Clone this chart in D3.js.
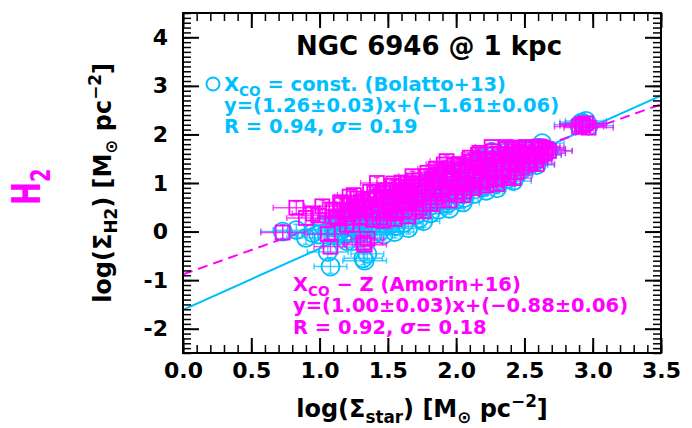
<!DOCTYPE html>
<html>
<head>
<meta charset="utf-8">
<script src="https://d3js.org/d3.v7.min.js"></script>
<style>
  body { margin: 0; background: #fff; }
  text { font-family: "DejaVu Sans", sans-serif; font-weight: bold; }
</style>
</head>
<body>
<div id="chart"></div>
<script>
// stellar surface density, log(Sigma_star), one entry per 1 kpc region
var xStar = [0.73,0.83,0.90,0.95,0.99,1.02,1.06,1.08,1.10,1.13,
  1.15,1.18,1.20,1.22,1.25,1.27,1.29,1.32,1.33,1.35,
  1.36,1.38,1.40,1.42,1.44,1.45,1.47,1.49,1.50,1.52,
  1.54,1.55,1.57,1.58,1.60,1.62,1.63,1.65,1.67,1.68,
  1.70,1.72,1.73,1.75,1.76,1.78,1.80,1.82,1.83,1.85,
  1.87,1.88,1.90,1.92,1.93,1.95,1.97,1.98,2.00,2.02,
  2.03,2.05,2.07,2.08,2.10,2.12,2.13,2.15,2.17,2.18,
  2.20,2.22,2.23,2.25,2.27,2.28,2.30,2.32,2.33,2.35,
  2.37,2.38,2.40,2.42,2.43,2.45,2.47,2.48,2.50,2.52,
  2.54,2.55,2.57,2.59,2.61,2.63,2.65,2.68,2.90,2.92,
  2.93,2.95,2.97,
  1.21,1.23,1.24,1.26,1.28,1.30,1.31,1.34,1.37,1.39,
  1.41,1.43,1.46,1.48,1.51,1.53,1.56,1.59,1.61,1.64,
  1.66,1.69,1.71,1.74,1.77,1.79,1.81,1.84,1.86,1.89,
  1.91,1.94,1.96,1.99,2.01,2.04,2.06,2.09,2.11,2.14,
  2.16,2.19,2.21,2.24,2.26,2.29,2.31,2.34,2.36,2.39,
  2.41,2.44,2.46,2.49,2.51,2.53,2.56,2.58,2.60,2.62,
  2.66,1.12,1.16,1.19];
var xErr = [0.16,0.17,0.14,0.15,0.12,0.13,0.15,0.12,0.11,0.14,
  0.12,0.13,0.15,0.11,0.12,0.10,0.13,0.14,0.16,0.12,
  0.11,0.13,0.10,0.12,0.14,0.11,0.12,0.10,0.13,0.11,
  0.12,0.14,0.10,0.11,0.12,0.13,0.10,0.11,0.12,0.10,
  0.12,0.11,0.13,0.10,0.12,0.11,0.10,0.12,0.11,0.13,
  0.10,0.12,0.11,0.10,0.12,0.11,0.10,0.12,0.11,0.13,
  0.10,0.12,0.11,0.10,0.12,0.11,0.10,0.12,0.11,0.13,
  0.10,0.12,0.11,0.10,0.12,0.11,0.13,0.10,0.12,0.11,
  0.10,0.12,0.11,0.13,0.10,0.12,0.11,0.10,0.12,0.11,
  0.13,0.12,0.14,0.13,0.15,0.16,0.15,0.17,0.18,0.16,
  0.17,0.15,0.18,
  0.12,0.11,0.13,0.10,0.12,0.14,0.11,0.12,0.10,0.13,
  0.11,0.12,0.10,0.13,0.11,0.10,0.12,0.11,0.13,0.10,
  0.12,0.11,0.10,0.12,0.13,0.11,0.10,0.12,0.11,0.10,
  0.13,0.11,0.12,0.10,0.11,0.13,0.10,0.12,0.11,0.10,
  0.12,0.11,0.13,0.10,0.12,0.11,0.10,0.12,0.13,0.11,
  0.10,0.12,0.11,0.13,0.12,0.11,0.14,0.12,0.13,0.15,
  0.14,0.13,0.12,0.14];

// H2 surface density with constant X_CO (Bolatto+13)
var yCO = [0.00,0.03,-0.13,-0.03,-0.06,0.13,-0.42,-0.72,0.08,-0.09,
  0.24,0.08,-0.20,0.38,0.42,0.14,-0.04,-0.55,-0.60,-0.46,
  0.35,0.13,0.50,0.70,0.00,0.37,-0.06,0.57,0.33,0.16,
  0.73,-0.01,0.57,0.33,0.76,0.18,0.54,0.07,0.74,0.91,
  0.43,0.71,0.27,0.65,0.21,0.93,0.51,0.88,0.65,1.10,
  0.45,0.86,0.58,1.09,1.27,0.47,0.87,1.03,0.66,1.24,
  0.85,0.60,1.20,0.86,1.39,1.11,0.77,1.35,1.50,0.94,
  1.26,0.84,1.35,1.18,1.55,1.01,0.89,1.51,1.33,1.20,
  1.63,1.09,1.51,1.04,1.67,1.38,1.55,1.27,1.66,1.42,
  1.37,1.68,1.58,1.37,1.73,1.82,1.61,1.67,2.20,2.25,
  2.22,2.28,2.18,
  0.01,0.24,-0.20,0.18,0.35,-0.02,0.29,0.18,0.52,-0.06,
  0.37,0.24,0.53,0.16,0.44,0.67,0.11,0.49,0.67,0.36,
  0.53,0.82,0.35,0.73,0.57,1.00,0.37,0.81,0.98,0.67,
  1.20,0.58,0.91,1.20,0.77,1.11,0.69,1.07,1.30,0.99,
  1.46,0.90,1.37,1.16,1.64,0.98,1.40,1.19,1.66,1.35,
  1.63,1.16,1.59,1.38,1.70,1.53,1.67,1.44,1.72,1.57,
  1.69,-0.05,0.20,-0.06];
var yErrCO = [0.14,0.12,0.13,0.12,0.11,0.12,0.13,0.14,0.11,0.12,
  0.10,0.11,0.12,0.10,0.11,0.10,0.12,0.13,0.14,0.12,
  0.10,0.11,0.09,0.10,0.12,0.10,0.11,0.09,0.10,0.11,
  0.09,0.12,0.10,0.09,0.10,0.11,0.09,0.12,0.10,0.09,
  0.10,0.09,0.11,0.09,0.12,0.10,0.09,0.10,0.09,0.11,
  0.08,0.10,0.09,0.08,0.10,0.11,0.08,0.09,0.10,0.09,
  0.10,0.11,0.08,0.09,0.08,0.10,0.09,0.08,0.07,0.10,
  0.09,0.10,0.08,0.09,0.08,0.10,0.11,0.08,0.09,0.10,
  0.08,0.09,0.08,0.10,0.07,0.09,0.08,0.09,0.07,0.08,
  0.09,0.07,0.08,0.09,0.07,0.08,0.08,0.09,0.08,0.07,
  0.08,0.07,0.08,
  0.11,0.10,0.12,0.11,0.10,0.12,0.10,0.11,0.09,0.12,
  0.10,0.09,0.10,0.11,0.09,0.10,0.12,0.09,0.10,0.11,
  0.09,0.10,0.11,0.09,0.10,0.08,0.11,0.09,0.10,0.09,
  0.08,0.10,0.09,0.08,0.10,0.09,0.10,0.08,0.09,0.10,
  0.08,0.09,0.08,0.10,0.07,0.09,0.08,0.09,0.07,0.08,
  0.09,0.08,0.07,0.08,0.09,0.07,0.08,0.09,0.08,0.07,
  0.08,0.12,0.11,0.12];

// H2 surface density with metallicity dependent X_CO (Amorin+16)
var yZ = [-0.02,0.49,0.28,0.37,0.33,0.52,-0.05,-0.31,0.45,0.27,
  0.60,0.43,0.14,0.72,0.75,0.47,0.29,-0.23,-0.27,-0.15,
  0.66,0.43,0.80,1.00,0.29,0.66,0.22,0.85,0.61,0.43,
  0.99,0.26,0.83,0.59,1.01,0.43,0.79,0.31,0.98,1.14,
  0.66,0.93,0.49,0.86,0.42,1.14,0.71,1.08,0.85,1.29,
  0.64,1.05,0.77,1.27,1.45,0.64,1.04,1.20,0.82,1.39,
  1.00,0.75,1.34,1.00,1.52,1.24,0.90,1.47,1.62,1.06,
  1.37,0.95,1.46,1.28,1.65,1.11,0.98,1.60,1.41,1.28,
  1.70,1.16,1.58,1.10,1.73,1.43,1.60,1.32,1.70,1.46,
  1.41,1.71,1.61,1.39,1.75,1.73,1.62,1.66,2.16,2.21,
  2.18,2.23,2.14,
  0.36,0.58,0.14,0.51,0.68,0.30,0.61,0.49,0.82,0.24,
  0.66,0.53,0.81,0.44,0.71,0.94,0.37,0.75,0.92,0.60,
  0.77,1.05,0.57,0.95,0.78,1.21,0.57,1.01,1.17,0.86,
  1.38,0.76,1.08,1.36,0.93,1.26,0.83,1.21,1.43,1.11,
  1.58,1.02,1.48,1.27,1.74,1.07,1.49,1.27,1.74,1.42,
  1.69,1.22,1.64,1.42,1.74,1.57,1.70,1.47,1.74,1.59,
  1.70,0.31,0.55,0.29];
var yErrZ = [0.15,0.13,0.14,0.13,0.12,0.13,0.14,0.15,0.12,0.13,
  0.11,0.12,0.13,0.11,0.12,0.11,0.13,0.14,0.15,0.13,
  0.11,0.12,0.10,0.11,0.13,0.11,0.12,0.10,0.11,0.12,
  0.10,0.13,0.11,0.10,0.11,0.12,0.10,0.13,0.11,0.10,
  0.11,0.10,0.12,0.10,0.13,0.11,0.10,0.11,0.10,0.12,
  0.09,0.11,0.10,0.09,0.11,0.12,0.09,0.10,0.11,0.10,
  0.11,0.12,0.09,0.10,0.09,0.11,0.10,0.09,0.08,0.11,
  0.10,0.11,0.09,0.10,0.09,0.11,0.12,0.09,0.10,0.11,
  0.09,0.10,0.09,0.11,0.08,0.10,0.09,0.10,0.08,0.09,
  0.10,0.08,0.09,0.10,0.08,0.09,0.09,0.10,0.09,0.08,
  0.09,0.08,0.09,
  0.12,0.11,0.13,0.12,0.11,0.13,0.11,0.12,0.10,0.13,
  0.11,0.10,0.11,0.12,0.10,0.11,0.13,0.10,0.11,0.12,
  0.10,0.11,0.12,0.10,0.11,0.09,0.12,0.10,0.11,0.10,
  0.09,0.11,0.10,0.09,0.11,0.10,0.11,0.09,0.10,0.11,
  0.09,0.10,0.09,0.11,0.08,0.10,0.09,0.10,0.08,0.09,
  0.10,0.09,0.08,0.09,0.10,0.08,0.09,0.10,0.09,0.08,
  0.09,0.13,0.12,0.13];

// fits: y = slope*x + intercept
var fitSlope = [1.26, 1.00];
var fitIntercept = [-1.61, -0.88];
var fitRange = [0, 3.5];

var xTicks = [0, 0.5, 1.0, 1.5, 2.0, 2.5, 3.0, 3.5];
var yTicks = [-2, -1, 0, 1, 2, 3, 4];

var cyan = "#00bfff", magenta = "#ff00ff";

var svg = d3.select("#chart").append("svg")
  .attr("width", 692).attr("height", 428);

var pL = 183, pR = 661, pT = 13, pB = 353;
var x = d3.scaleLinear().domain([0, 3.5]).range([pL, pR]);
var y = d3.scaleLinear().domain([-2.5, 4.5]).range([pB, pT]);

svg.append("clipPath").attr("id", "clip")
  .append("rect").attr("x", pL).attr("y", pT)
  .attr("width", pR - pL).attr("height", pB - pT);

var plot = svg.append("g").attr("clip-path", "url(#clip)");

// fit lines go under the points
var line = d3.line().x(function(d) { return x(d[0]); }).y(function(d) { return y(d[1]); });
fitSlope.forEach(function(m, i) {
  plot.append("path")
    .datum(fitRange.map(function(v) { return [v, m * v + fitIntercept[i]]; }))
    .attr("fill", "none")
    .attr("stroke", i == 0 ? cyan : magenta)
    .attr("stroke-width", 2)
    .attr("stroke-dasharray", i == 0 ? null : "10,6")
    .attr("d", line);
});

function errorBars(g, ys, yerr, color) {
  var cap = 3;
  xStar.forEach(function(xv, i) {
    var cx = x(xv), cy = y(ys[i]);
    var x0 = x(xv - xErr[i]), x1 = x(xv + xErr[i]);
    var y0 = y(ys[i] - yerr[i]), y1 = y(ys[i] + yerr[i]);
    var segs = [[x0, cy, x1, cy], [cx, y0, cx, y1],
      [x0, cy - cap, x0, cy + cap], [x1, cy - cap, x1, cy + cap],
      [cx - cap, y0, cx + cap, y0], [cx - cap, y1, cx + cap, y1]];
    segs.forEach(function(s) {
      g.append("line").attr("x1", s[0]).attr("y1", s[1]).attr("x2", s[2]).attr("y2", s[3])
        .attr("stroke", color).attr("stroke-width", 1.4).attr("opacity", 0.75);
    });
  });
}

var gC = plot.append("g");
errorBars(gC, yCO, yErrCO, cyan);
gC.selectAll("circle").data(xStar).enter().append("circle")
  .attr("cx", function(d) { return x(d); })
  .attr("cy", function(d, i) { return y(yCO[i]); })
  .attr("r", 9)
  .attr("fill", "none").attr("stroke", cyan).attr("stroke-width", 1.8);

var gZ = plot.append("g");
errorBars(gZ, yZ, yErrZ, magenta);
gZ.selectAll("rect").data(xStar).enter().append("rect")
  .attr("x", function(d) { return x(d) - 7; })
  .attr("y", function(d, i) { return y(yZ[i]) - 7; })
  .attr("width", 14).attr("height", 14)
  .attr("fill", "none").attr("stroke", magenta).attr("stroke-width", 1.8);

// axes, ticks pointing inwards on all four sides
function minor(lo, hi) { return d3.range(Math.round(lo * 10), Math.round(hi * 10) + 1).map(function(k) { return k / 10; }); }
var xMinor = minor(0, 3.5), yMinor = minor(-2.5, 4.5);

function styleAxis(g, w) {
  g.select(".domain").remove();
  g.selectAll("line").attr("stroke", "#000").attr("stroke-width", w);
  g.selectAll("text").attr("font-size", 22).attr("fill", "#000");
}

svg.append("g").attr("transform", "translate(0," + pB + ")")
  .call(d3.axisBottom(x).tickValues(xMinor).tickSize(-8).tickFormat(""))
  .call(styleAxis, 1.5);
svg.append("g").attr("transform", "translate(0," + pB + ")")
  .call(d3.axisBottom(x).tickValues(xTicks).tickSize(-15).tickPadding(9).tickFormat(d3.format(".1f")))
  .call(styleAxis, 2);
svg.append("g").attr("transform", "translate(0," + pT + ")")
  .call(d3.axisTop(x).tickValues(xMinor).tickSize(-8).tickFormat(""))
  .call(styleAxis, 1.5);
svg.append("g").attr("transform", "translate(0," + pT + ")")
  .call(d3.axisTop(x).tickValues(xTicks).tickSize(-15).tickFormat(""))
  .call(styleAxis, 2);

svg.append("g").attr("transform", "translate(" + pL + ",0)")
  .call(d3.axisLeft(y).tickValues(yMinor).tickSize(-8).tickFormat(""))
  .call(styleAxis, 1.5);
svg.append("g").attr("transform", "translate(" + pL + ",0)")
  .call(d3.axisLeft(y).tickValues(yTicks).tickSize(-16).tickPadding(15).tickFormat(d3.format("d")))
  .call(styleAxis, 2);
svg.append("g").attr("transform", "translate(" + pR + ",0)")
  .call(d3.axisRight(y).tickValues(yMinor).tickSize(-8).tickFormat(""))
  .call(styleAxis, 1.5);
svg.append("g").attr("transform", "translate(" + pR + ",0)")
  .call(d3.axisRight(y).tickValues(yTicks).tickSize(-16).tickFormat(""))
  .call(styleAxis, 2);
// use an ascii hyphen for the negative y labels, like the original
svg.selectAll("text").filter(function() { return this.textContent.indexOf("\u2212") == 0; })
  .text(function() { return "-" + this.textContent.slice(1); });

svg.append("rect").attr("x", pL).attr("y", pT)
  .attr("width", pR - pL).attr("height", pB - pT)
  .attr("fill", "none").attr("stroke", "#000").attr("stroke-width", 2);

// rich text helper: parts are [text, "sub"|"sup"|"it"|null]
function rich(t, parts, size) {
  var shift = 0;
  parts.forEach(function(p) {
    var ts = t.append("tspan").text(p[0]);
    var want = p[1] == "sub" ? size * 0.25 : p[1] == "sup" ? -size * 0.42 : 0;
    ts.attr("dy", want - shift);
    shift = want;
    if (p[1] == "sub" || p[1] == "sup") ts.attr("font-size", size * 0.7);
    if (p[1] == "it") ts.attr("font-style", "italic");
  });
  return t;
}

svg.append("text").attr("x", 429).attr("y", 55).attr("text-anchor", "middle")
  .attr("font-size", 26).text("NGC 6946 @ 1 kpc");

// legend, constant X_CO
svg.append("circle").attr("cx", 213).attr("cy", 84).attr("r", 6.5)
  .attr("fill", "none").attr("stroke", cyan).attr("stroke-width", 2);
var legC = [
  [["X", null], ["CO", "sub"], [" = const. (Bolatto+13)", null]],
  [["y=(1.26\u00b10.03)x+(\u22121.61\u00b10.06)", null]],
  [["R = 0.94, ", null], ["\u03c3", "it"], ["= 0.19", null]]
];
legC.forEach(function(parts, i) {
  rich(svg.append("text").attr("x", 224).attr("y", 91 + i * 21)
    .attr("font-size", 19.5).attr("fill", cyan), parts, 19.5);
});

// legend, metallicity dependent X_CO
var legZ = [
  [["X", null], ["CO", "sub"], [" \u2212 Z (Amorin+16)", null]],
  [["y=(1.00\u00b10.03)x+(\u22120.88\u00b10.06)", null]],
  [["R = 0.92, ", null], ["\u03c3", "it"], ["= 0.18", null]]
];
legZ.forEach(function(parts, i) {
  rich(svg.append("text").attr("x", 293).attr("y", 291 + i * 21.3)
    .attr("font-size", 19.5).attr("fill", magenta), parts, 19.5);
});

// axis labels
rich(svg.append("text").attr("x", 422).attr("y", 417).attr("text-anchor", "middle")
  .attr("font-size", 24),
  [["log(\u03a3", null], ["star", "sub"], [") [M", null], ["\u2299", "sub"], [" pc", null], ["\u22122", "sup"], ["]", null]], 24);

rich(svg.append("text").attr("transform", "translate(111,183) rotate(-90)")
  .attr("text-anchor", "middle").attr("font-size", 24),
  [["log(\u03a3", null], ["H2", "sub"], [") [M", null], ["\u2299", "sub"], [" pc", null], ["\u22122", "sup"], ["]", null]], 24);

rich(svg.append("text").attr("transform", "translate(40,205) rotate(-90) scale(0.86,1.2)")
  .attr("font-size", 32).attr("fill", magenta),
  [["H", null], ["2", "sub"]], 32);
</script>
</body>
</html>
